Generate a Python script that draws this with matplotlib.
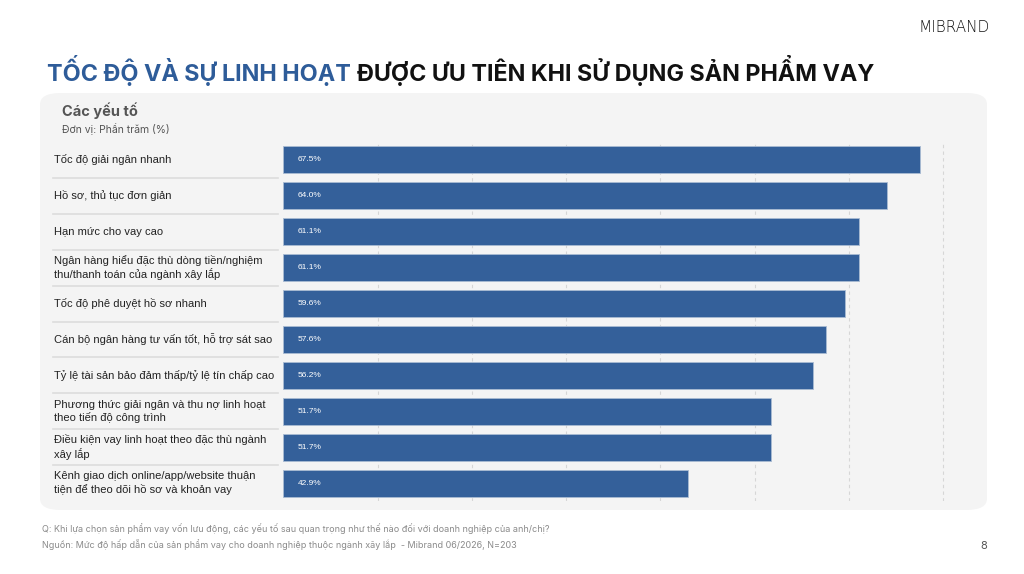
import matplotlib.pyplot as plt
import matplotlib.transforms as mtransforms
from matplotlib.patches import FancyBboxPatch

# Data
factors = [
    "Tốc độ giải ngân nhanh",
    "Hồ sơ, thủ tục đơn giản",
    "Hạn mức cho vay cao",
    "Ngân hàng hiểu đặc thù dòng tiền/nghiệm\nthu/thanh toán của ngành xây lắp",
    "Tốc độ phê duyệt hồ sơ nhanh",
    "Cán bộ ngân hàng tư vấn tốt, hỗ trợ sát sao",
    "Tỷ lệ tài sản bảo đảm thấp/tỷ lệ tín chấp cao",
    "Phương thức giải ngân và thu nợ linh hoạt\ntheo tiến độ công trình",
    "Điều kiện vay linh hoạt theo đặc thù ngành\nxây lắp",
    "Kênh giao dịch online/app/website thuận\ntiện để theo dõi hồ sơ và khoản vay",
]
values = [67.5, 64.0, 61.1, 61.1, 59.6, 57.6, 56.2, 51.7, 51.7, 42.9]
grid_ticks = [10, 20, 30, 40, 50, 60, 70]

BAR = "#34609a"
BLUE = "#2e5c99"
PANEL = "#f4f4f4"

W, H = 1024, 574
fig = plt.figure(figsize=(W / 100, H / 100), dpi=100)
fig.patch.set_facecolor("white")


def fx(px):
    return px / W


def fy(py):
    return 1 - py / H


# rounded panel (behind the axes)
panel = FancyBboxPatch((fx(40), fy(510)), fx(987) - fx(40), fy(93) - fy(510),
                       boxstyle="round,pad=0,rounding_size=0.02",
                       transform=fig.transFigure, facecolor=PANEL,
                       edgecolor="none", zorder=-5)
fig.patches.append(panel)

# title
t1 = fig.text(fx(47), fy(70), "TỐC ĐỘ VÀ SỰ LINH HOẠT", color=BLUE,
              fontsize=16.8, fontweight="bold", family="Inter", va="center")
fig.canvas.draw()
bb = t1.get_window_extent()
fig.text(bb.x1 / W + fx(6), fy(70), "ĐƯỢC ƯU TIÊN KHI SỬ DỤNG SẢN PHẨM VAY",
         color="#111111", fontsize=16.8, fontweight="bold", family="Inter",
         va="center")

fig.text(fx(990), fy(27), "MIBRAND", fontsize=11, family="DejaVu Sans",
         color="#111111", ha="right", va="center", fontweight="light")

fig.text(fx(62), fy(111), "Các yếu tố", fontsize=10.5, fontweight="bold",
         color="#555555", family="Inter", va="center")
fig.text(fx(62), fy(129), "Đơn vị: Phần trăm (%)", fontsize=7.5,
         color="#555555", family="Inter", va="center")

# chart axes
ax = fig.add_axes([fx(283.4), fy(501), fx(962) - fx(283.4), fy(142) - fy(501)])
ax.set_facecolor("none")
ax.set_zorder(2)
y = list(range(len(factors)))
ax.barh(y, values, height=0.75, color=BAR, edgecolor="#a9bbd3",
        linewidth=0.6, zorder=2)
ax.set_ylim(len(factors) - 0.5, -0.5)
ax.set_xlim(0, 72)
for t in grid_ticks:
    ax.axvline(t, color="#d6d6d6", linestyle=(0, (3, 3)), linewidth=0.8, zorder=1)
for spine in ax.spines.values():
    spine.set_visible(False)
ax.set_xticks([])
ax.set_yticks([])

for yi, v in zip(y, values):
    ax.text(1.5, yi, f"{v:.1f}%", color="white", fontsize=6,
            family="Liberation Sans", va="center", ha="left", zorder=3)

trans = mtransforms.blended_transform_factory(fig.transFigure, ax.transData)
for yi, lab in zip(y, factors):
    ax.text(fx(54), yi, lab, transform=trans, fontsize=8,
            family="Liberation Sans", color="#222222", va="center", ha="left",
            linespacing=1.25, clip_on=False)
for yi in y[:-1]:
    ax.plot([fx(53), fx(278)], [yi + 0.5, yi + 0.5], transform=trans,
            color="#dddddd", linewidth=1.2, clip_on=False)

# footer
fig.text(fx(42), fy(529), "Q: Khi lựa chọn sản phẩm vay vốn lưu động, các yếu tố sau quan trọng như thế nào đối với doanh nghiệp của anh/chị?",
         fontsize=6.5, color="#8a8a8a", family="Inter", va="center")
fig.text(fx(42), fy(545), "Nguồn: Mức độ hấp dẫn của sản phẩm vay cho doanh nghiệp thuộc ngành xây lắp  - Mibrand 06/2026, N=203",
         fontsize=6.5, color="#8a8a8a", family="Inter", va="center")
fig.text(fx(987), fy(546), "8", fontsize=8, color="#555555", family="Inter",
         va="center", ha="right")

fig.savefig("out.png", dpi=100, facecolor="white")
